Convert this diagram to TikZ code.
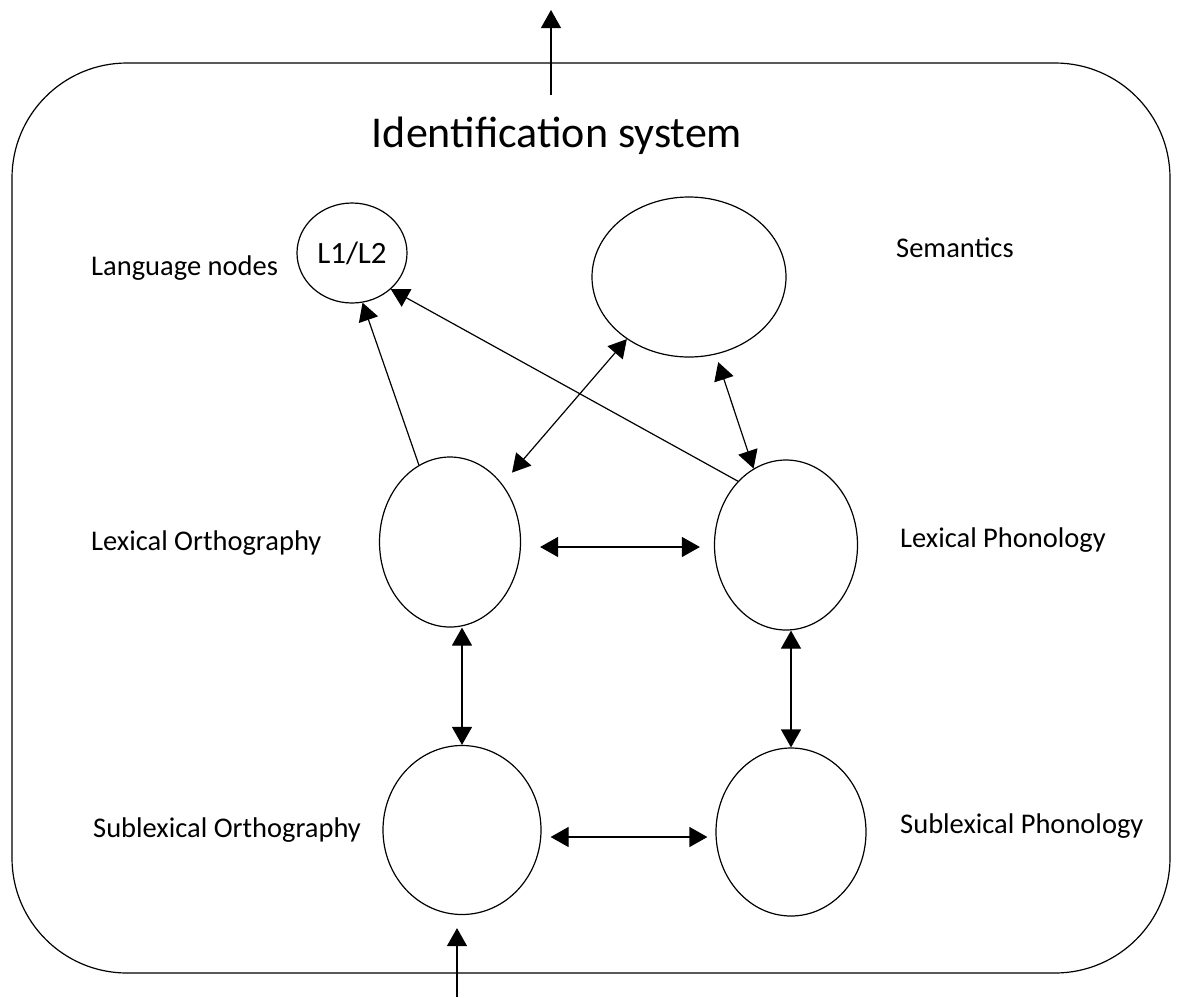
\documentclass[tikz,border=0pt]{standalone}
\usepackage{fontspec}
\setmainfont{Carlito}
\usetikzlibrary{shapes.geometric,arrows.meta}
\tikzset{
  oval/.style={draw, ellipse, inner sep=0pt, line width=1.2pt},
  lbl/.style={inner sep=0pt, anchor=base west, font=\fontsize{28.5}{34}\selectfont},
  arr/.style={line width=1.2pt, -{Triangle[length=18pt,width=20pt]}},
  darr/.style={line width=1.2pt, {Triangle[length=18pt,width=20pt]}-{Triangle[length=18pt,width=20pt]}},
}
\begin{document}
\begin{tikzpicture}[x=1pt,y=-1pt]
\useasboundingbox (0,0) rectangle (1181,997);
% frame
\node[draw, line width=1.2pt, rounded corners=115pt, minimum width=1158pt, minimum height=910pt, inner sep=0pt] (box) at (591,518) {};
\node[inner sep=0pt, anchor=base, font=\fontsize{44}{52}\selectfont] (title) at (557,147) {Identification system};
% nodes
\node[oval, minimum width=110pt, minimum height=100pt, font=\fontsize{31}{36}\selectfont] (L12) at (352,253) {L1/L2};
\node[oval, minimum width=194pt, minimum height=160pt] (Sem) at (689,277) {};
\node[oval, minimum width=141pt, minimum height=170pt] (LO) at (450,542) {};
\node[oval, minimum width=143pt, minimum height=170pt] (LP) at (786,545) {};
\node[oval, minimum width=158pt, minimum height=169pt] (SO) at (462,830) {};
\node[oval, minimum width=150pt, minimum height=168pt] (SP) at (791,832) {};
% labels
\node[lbl] (tLang) at (91,275) {Language nodes};
\node[lbl] (tSem) at (896,257) {Semantics};
\node[lbl] (tLO) at (91,550) {Lexical Orthography};
\node[lbl] (tLP) at (900,547) {Lexical Phonology};
\node[lbl] (tSO) at (93,837) {Sublexical Orthography};
\node[lbl] (tSP) at (900,833) {Sublexical Phonology};
% connectors
\draw[arr] (LO.112) -- (L12.282);
\draw[arr] (LP.127) -- (L12.317);
\draw[darr, shorten <=15pt] (LO.48.5) -- (Sem.225.4);
\draw[darr, shorten <=8pt] (Sem.289) -- (LP.113);
\draw[darr, shorten <=19pt, shorten >=14pt] ([yshift=-5pt]LO.east) -- ([yshift=-2pt]LP.west);
\draw[darr, shorten <=9pt, shorten >=8pt] ([yshift=-7pt]SO.east) -- ([yshift=-5pt]SP.west);
\draw[darr] (LO.south -| SO.north) -- (SO.north);
\draw[darr] (LP.south -| SP.north) -- (SP.north);
% in / out
\coordinate (outStart) at (551,95);
\coordinate (outEnd) at (551,10);
\draw[arr] (outStart) -- (outEnd);
\coordinate (inStart) at (457,997);
\draw[arr, shorten >=13pt] (inStart) -- (inStart |- SO.south);
\end{tikzpicture}
\end{document}
